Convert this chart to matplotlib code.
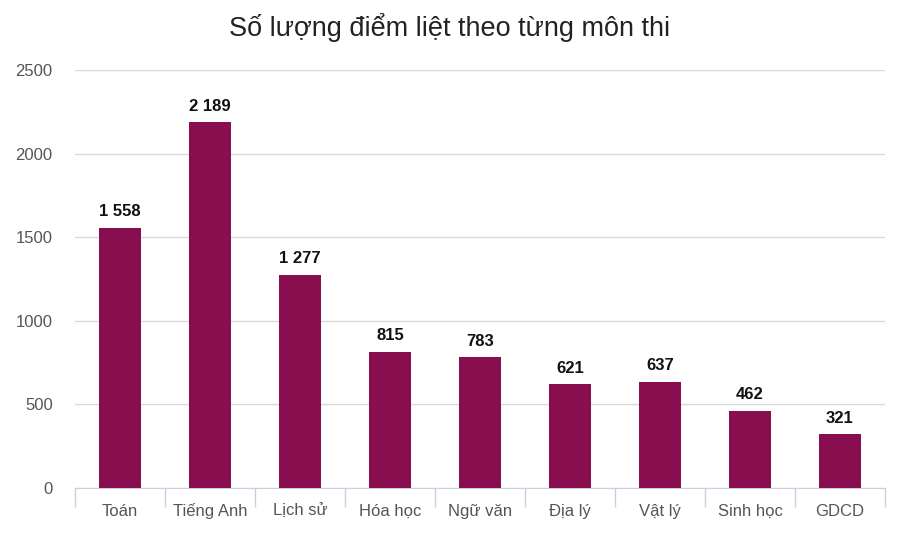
import matplotlib
matplotlib.use("Agg")
import matplotlib.pyplot as plt
import numpy as np

subjects = ["Toán", "Tiếng Anh", "Lịch sử", "Hóa học", "Ngữ văn",
            "Địa lý", "Vật lý", "Sinh học", "GDCD"]
counts = [1558, 2189, 1277, 815, 783, 621, 637, 462, 321]
yticks = [0, 500, 1000, 1500, 2000, 2500]

plt.rcParams['font.family'] = ['Liberation Sans', 'DejaVu Sans']

fig = plt.figure(figsize=(9, 5.4), dpi=100)
ax = fig.add_axes([0.0833, 0.0963, 0.9, 0.774])

x = np.arange(len(subjects))
ax.bar(x, counts, width=0.47, color='#880E4F', zorder=3)

for xi, v in zip(x, counts):
    label = f"{v:,}".replace(",", " ")
    ax.text(xi, v + 50, label, ha='center', va='bottom',
            fontsize=12, fontweight='bold', color='#111111')

ax.set_xlim(-0.5, len(subjects) - 0.5)
ax.set_ylim(0, 2500)
ax.set_yticks(yticks)
ax.set_yticklabels([str(t) for t in yticks], fontsize=12, color='#555555')
ax.yaxis.grid(True, color='#d9d9d9', linewidth=1, zorder=0)
ax.tick_params(axis='y', length=0, pad=16)

# category labels, with tick marks at category boundaries
ax.set_xticks(x)
ax.set_xticklabels(subjects, fontsize=12, color='#555555', va='baseline')
ax.tick_params(axis='x', which='major', length=0, pad=20)
ax.set_xticks(np.arange(-0.5, len(subjects)), minor=True)
ax.tick_params(axis='x', which='minor', length=14, color='#c8d0e0', width=1)

for s in ['top', 'right', 'left']:
    ax.spines[s].set_visible(False)
ax.spines['bottom'].set_color('#c8d0e0')

fig.suptitle("Số lượng điểm liệt theo từng môn thi", fontsize=19.5,
             color='#222222', y=0.975)

fig.savefig("out.png", dpi=100)
